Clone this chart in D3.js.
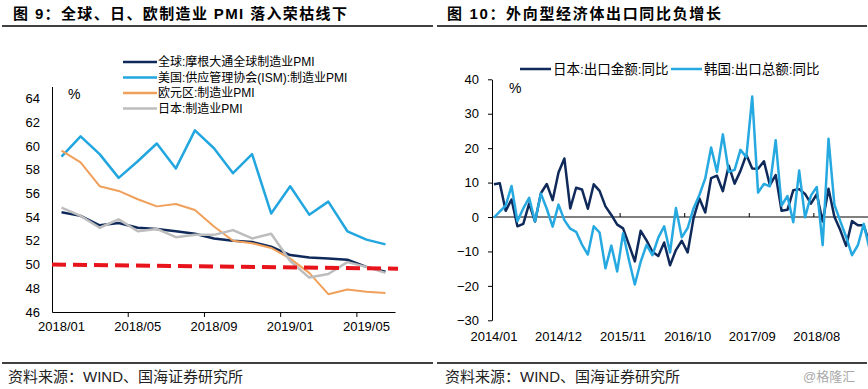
<!DOCTYPE html>
<html>
<head>
	<meta charset="utf-8">
	<title>图9 图10</title>
	<script src="https://d3js.org/d3.v7.min.js"></script>
	<style>
		body { margin: 0; background: #fff; }
		text { font-family: "Liberation Sans", Arial, "Noto Sans CJK SC", sans-serif; }
	</style>
</head>
<body>
	<div class="chart"></div>

	<script type="text/javascript">

		// 图9 数据
		const pmiMonths = ['2018/01', '2018/02', '2018/03', '2018/04', '2018/05', '2018/06', '2018/07', '2018/08', '2018/09',
			'2018/10', '2018/11', '2018/12', '2019/01', '2019/02', '2019/03', '2019/04', '2019/05', '2019/06']
		const pmiTickLabels = ['2018/01', '2018/05', '2018/09', '2019/01', '2019/05']
		const globalPMI = [54.4, 54.1, 53.3, 53.5, 53.1, 53.0, 52.8, 52.6, 52.2, 52.0, 51.9, 51.5, 50.8, 50.6, 50.5, 50.4, 49.8, 49.4]
		const ismPMI = [59.1, 60.8, 59.3, 57.3, 58.7, 60.2, 58.1, 61.3, 59.8, 57.7, 59.3, 54.3, 56.6, 54.2, 55.3, 52.8, 52.1, 51.7]
		const euroPMI = [59.6, 58.6, 56.6, 56.2, 55.5, 54.9, 55.1, 54.6, 53.2, 52.0, 51.8, 51.4, 50.5, 49.3, 47.5, 47.9, 47.7, 47.6]
		const japanPMI = [54.8, 54.1, 53.1, 53.8, 52.8, 53.0, 52.3, 52.5, 52.5, 52.9, 52.2, 52.6, 50.3, 48.9, 49.2, 50.2, 49.8, 49.3]
		const boomBustLine = [50.0, 49.65]   // 荣枯线（起点、终点）
		const pmiTicks = [46, 48, 50, 52, 54, 56, 58, 60, 62, 64]

		// 图10 数据
		const exportMonths = d3.timeMonth.range(new Date(2014, 0, 1), new Date(2019, 5, 1)).map(d3.timeFormat('%Y/%m'))
		const exportTickLabels = ['2014/01', '2014/12', '2015/11', '2016/10', '2017/09', '2018/08']
		const japanExport = [
			9.5, 9.8, 1.8, 5.1, -2.7, -2.0, 3.9, -1.3, 6.9, 9.6, 4.9, 12.9,
			17.0, 2.5, 8.5, 8.0, 2.4, 9.5, 7.6, 3.1, 0.6, -2.2, -3.3, -8.0,
			-12.9, -4.0, -6.8, -10.1, -11.3, -7.4, -14.0, -9.6, -6.9, -10.3, -0.4, 5.4,
			1.3, 11.3, 12.0, 7.5, 14.9, 9.7, 13.4, 18.1, 14.1, 14.0, 16.2, 9.3,
			12.2, 1.8, 2.1, 7.8, 8.1, 6.7, 3.9, 6.6, -1.3, 8.2, 0.1, -3.8,
			-8.4, -1.2, -2.4, -2.4, -7.8]
		const koreaExport = [
			-0.2, 1.6, 3.3, 9.0, -1.2, 2.5, 5.6, -1.3, 6.8, 2.4, -2.8, 3.6,
			-0.9, -3.4, -4.3, -8.0, -10.9, -2.7, -4.5, -14.9, -8.3, -15.8, -4.7, -12.5,
			-19.6, -13.0, -8.1, -11.1, -6.0, -2.7, -10.3, 2.6, -5.9, -3.2, 2.5, 6.4,
			11.2, 20.2, 13.1, 24.0, 13.1, 13.7, 19.5, 17.4, 35.0, 7.1, 9.6, 8.9,
			22.3, 3.3, 6.1, -1.5, 13.5, -0.1, 6.2, 8.7, -8.2, 22.7, 3.6, -1.2,
			-5.8, -11.1, -8.2, -2.0, -9.4]
		const exportTicks = [-30, -20, -10, 0, 10, 20, 30, 40]

		const width = 868
		const height = 389

		const svg = d3.select('.chart')
			.append('svg')
			.attr('width', width)
			.attr('height', height)
			.style('background-color', '#fff')

		/**
		 * 标题、来源
		 */
		const titles = [
			{ x: 13, len: 334, text: '图 9：全球、日、欧制造业 PMI 落入荣枯线下' },
			{ x: 447, len: 274, text: '图 10：外向型经济体出口同比负增长' }
		]
		svg.selectAll('.title')
			.data(titles)
			.join('text')
			.attr('class', 'title')
			.attr('x', d => d.x)
			.attr('y', 19)
			.attr('font-size', 15)
			.attr('font-weight', 'bold')
			.attr('textLength', d => d.len)
			.attr('lengthAdjust', 'spacing')
			.text(d => d.text)

		const rules = [[2, 433, 26], [437, 867, 26], [2, 433, 363], [437, 867, 363]]
		svg.selectAll('.rule')
			.data(rules)
			.join('line')
			.attr('x1', d => d[0])
			.attr('x2', d => d[1])
			.attr('y1', d => d[2])
			.attr('y2', d => d[2])
			.attr('stroke', '#000')
			.attr('stroke-width', 1.5)

		svg.selectAll('.source')
			.data([8, 445])
			.join('text')
			.attr('x', d => d)
			.attr('y', 382)
			.attr('font-size', 15)
			.attr('fill', '#222')
			.text('资料来源：WIND、国海证券研究所')

		svg.append('text')
			.attr('x', 803)
			.attr('y', 381)
			.attr('font-size', 13)
			.attr('fill', '#aaa')
			.text('@格隆汇')

		/**
		 * 图9：PMI
		 */
		const xL = d3.scaleBand().domain(pmiMonths).range([52, 395])
		const yL = d3.scaleLinear().domain([46, 65]).range([312, 86.5])
		const cx = m => xL(m) + xL.bandwidth() / 2

		const left = svg.append('g')

		const yAxisL = left.append('g')
			.attr('transform', 'translate(52,0)')
			.call(d3.axisLeft(yL).tickValues(pmiTicks).tickSize(0).tickSizeOuter(0).tickPadding(12))
		yAxisL.selectAll('text').attr('font-size', 13).attr('fill', '#000')
		yAxisL.attr('font-family', null)

		const xAxisL = left.append('g')
			.attr('transform', 'translate(0,312)')
			.call(d3.axisBottom(xL).tickValues(pmiTickLabels).tickSize(0).tickSizeOuter(0).tickPadding(10))
		xAxisL.selectAll('text').attr('font-size', 13).attr('fill', '#000')
		xAxisL.attr('font-family', null)
		// 刻度线位于类别之间
		left.append('g')
			.selectAll('line')
			.data(pmiTickLabels.slice(1))
			.join('line')
			.attr('x1', d => xL(d))
			.attr('x2', d => xL(d))
			.attr('y1', 312)
			.attr('y2', 317)
			.attr('stroke', '#000')

		left.append('text')
			.attr('x', 68)
			.attr('y', 99)
			.attr('font-size', 14)
			.text('%')

		const pmiSeries = [
			{ name: '全球:摩根大通全球制造业PMI', values: globalPMI, color: '#0f2a5a', w: 2.5 },
			{ name: '美国:供应管理协会(ISM):制造业PMI', values: ismPMI, color: '#22a6df', w: 2.5 },
			{ name: '欧元区:制造业PMI', values: euroPMI, color: '#f0a05a', w: 2 },
			{ name: '日本:制造业PMI', values: japanPMI, color: '#bdbdbd', w: 2.5 }
		]

		const lineL = d3.line()
			.x((d, i) => cx(pmiMonths[i]))
			.y(d => yL(d))

		left.append('g')
			.selectAll('path')
			.data(pmiSeries)
			.join('path')
			.attr('d', d => lineL(d.values))
			.attr('fill', 'none')
			.attr('stroke', d => d.color)
			.attr('stroke-width', d => d.w)
			.attr('stroke-linejoin', 'round')

		// 荣枯线
		left.append('line')
			.attr('x1', xL.range()[0])
			.attr('x2', xL.range()[1] + 3)
			.attr('y1', yL(boomBustLine[0]))
			.attr('y2', yL(boomBustLine[1]))
			.attr('stroke', '#e8141b')
			.attr('stroke-width', 4)
			.attr('stroke-dasharray', '14,7')

		const legL = left.append('g')
			.selectAll('g')
			.data(pmiSeries)
			.join('g')
			.attr('transform', (d, i) => `translate(123, ${62 + i * 15.5})`)
		legL.append('line')
			.attr('x1', 0)
			.attr('x2', 34)
			.attr('stroke', d => d.color)
			.attr('stroke-width', 2.5)
		legL.append('text')
			.attr('x', 35)
			.attr('dy', '0.36em')
			.attr('font-size', 12)
			.text(d => d.name)

		/**
		 * 图10：出口同比
		 */
		const xR = d3.scaleBand().domain(exportMonths).range([491, 491 + 65 * 5.87])
		const yR = d3.scaleLinear().domain([-30, 40]).range([320.3, 79.3])
		const cxR = m => xR(m) + xR.bandwidth() / 2

		const right = svg.append('g')

		const yAxisR = right.append('g')
			.attr('transform', 'translate(492,0)')
			.call(d3.axisLeft(yR).tickValues(exportTicks).tickSize(4).tickSizeOuter(0).tickPadding(9))
		yAxisR.selectAll('text').attr('font-size', 13).attr('fill', '#000')
		yAxisR.attr('font-family', null)

		// 零线与刻度
		right.append('line')
			.attr('x1', 492)
			.attr('x2', width)
			.attr('y1', yR(0))
			.attr('y2', yR(0))
			.attr('stroke', '#000')
		right.append('g')
			.selectAll('line')
			.data(exportTickLabels.slice(1))
			.join('line')
			.attr('x1', d => xR(d))
			.attr('x2', d => xR(d))
			.attr('y1', yR(0))
			.attr('y2', yR(0) - 4)
			.attr('stroke', '#000')

		right.append('g')
			.selectAll('text')
			.data(exportTickLabels)
			.join('text')
			.attr('x', d => cxR(d))
			.attr('y', 340.5)
			.attr('text-anchor', 'middle')
			.attr('font-size', 13)
			.text(d => d)

		right.append('text')
			.attr('x', 509)
			.attr('y', 93)
			.attr('font-size', 14)
			.text('%')

		const exportSeries = [
			{ name: '日本:出口金额:同比', values: japanExport, color: '#0f2a5a', lx: 520 },
			{ name: '韩国:出口总额:同比', values: koreaExport, color: '#25a9e0', lx: 671 }
		]

		const lineR = d3.line()
			.x((d, i) => cxR(exportMonths[i]))
			.y(d => yR(d))

		right.append('g')
			.selectAll('path')
			.data(exportSeries)
			.join('path')
			.attr('d', d => lineR(d.values))
			.attr('fill', 'none')
			.attr('stroke', d => d.color)
			.attr('stroke-width', 2.5)
			.attr('stroke-linejoin', 'round')

		const legR = right.append('g')
			.selectAll('g')
			.data(exportSeries)
			.join('g')
			.attr('transform', d => `translate(${d.lx}, 69)`)
		legR.append('line')
			.attr('x1', 0)
			.attr('x2', 31)
			.attr('stroke', d => d.color)
			.attr('stroke-width', 2.5)
		legR.append('text')
			.attr('x', 33)
			.attr('dy', '0.36em')
			.attr('font-size', 13.5)
			.text(d => d.name)

	</script>
</body>
</html>
